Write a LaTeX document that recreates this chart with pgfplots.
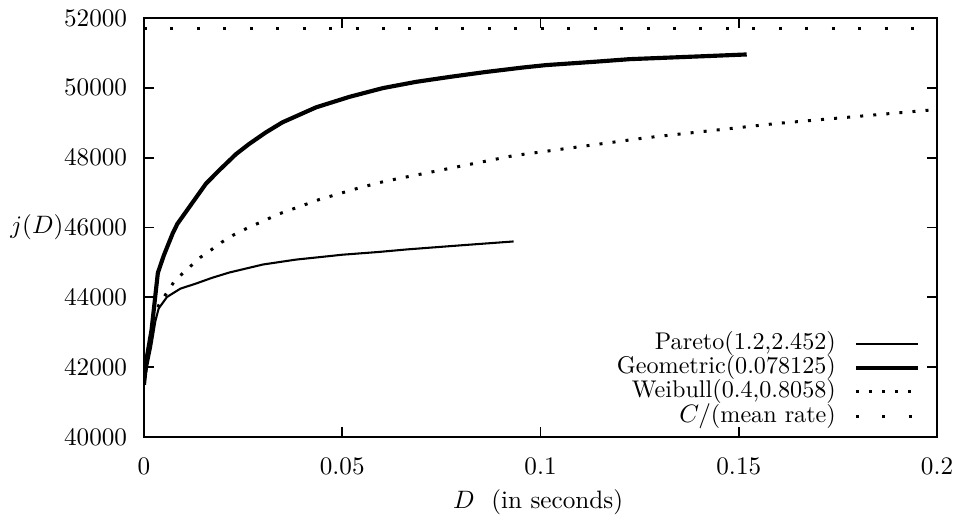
\documentclass[11pt,border=0pt]{standalone}
\usepackage{pgfplots}
\pgfplotsset{compat=1.18}
\begin{document}
\begin{tikzpicture}
\useasboundingbox (-62.6pt,-35.65pt) rectangle (352.6pt,190pt);
\begin{axis}[
  at={(0pt,0pt)}, anchor=south west,
  scale only axis, width=344.8pt, height=182.2pt,
  xmin=0, xmax=0.2, ymin=40000, ymax=52000,
  xtick={0,0.05,0.1,0.15,0.2}, xticklabels={0,0.05,0.1,0.15,0.2},
  ytick={40000,42000,44000,46000,48000,50000,52000},
  yticklabels={40000,42000,44000,46000,48000,50000,52000},
  scaled x ticks=false, scaled y ticks=false,
  tick align=inside, major tick length=4.5pt,
  axis line style={line width=0.8pt},
  every tick/.style={black, line width=0.8pt},
  xticklabel style={yshift=-5pt}, yticklabel style={xshift=-3.5pt},
  xlabel={$D$\ \ (in seconds)}, ylabel={$j(D)$},
  every axis x label/.style={at={(axis description cs:0.497,-0.1544)}, anchor=center},
  every axis y label/.style={at={(axis description cs:-0.169,0.5)}, anchor=west, inner sep=0pt},
  legend plot pos=right,
  legend cell align=right,
  legend style={draw=none, fill=none, inner sep=0pt, outer sep=0pt,
    at={(axis description cs:0.9785,0.0213)}, anchor=south east,
    row sep=0pt, column sep=7.8pt, font=\fontsize{10.5}{12}\selectfont,
    nodes={inner sep=0pt, text height=7.875pt, text depth=2.625pt}},
  legend image code/.code={\draw[#1] (0pt,0pt) -- (27pt,0pt);},
]
\addplot[black, line width=0.9pt] coordinates {
(0,41500) (0.0006,41910) (0.0018,42580) (0.0029,43340) (0.0037,43680)
(0.0058,44010) (0.0092,44250) (0.013,44390) (0.0172,44560) (0.0215,44710)
(0.03,44940) (0.0383,45080) (0.0467,45180) (0.05,45220) (0.0593,45300)
(0.0661,45370) (0.08,45490) (0.0932,45600)};
\addlegendentry{Pareto(1.2,2.452)}
\addplot[black, line width=1.8pt] coordinates {
(0,41500) (0.0006,42200) (0.0019,43060) (0.0035,44700) (0.005,45200)
(0.0072,45820) (0.0084,46100) (0.0114,46580) (0.0156,47250) (0.0189,47630)
(0.0232,48100) (0.0265,48390) (0.0307,48720) (0.0349,49010) (0.0434,49440)
(0.0518,49740) (0.0602,49990) (0.0686,50170) (0.077,50310) (0.086,50450)
(0.0955,50580) (0.1014,50650) (0.1136,50745) (0.1225,50820) (0.1435,50915)
(0.152,50955)};
\addlegendentry{Geometric(0.078125)}
\addplot[black, line width=1.3pt, dash pattern=on 1.3pt off 4.4pt] coordinates {
(0,41500) (0.0012,42500) (0.0025,43200) (0.0037,43770) (0.0056,44105)
(0.0077,44466) (0.0101,44723) (0.0143,45151) (0.0171,45371) (0.0195,45571)
(0.0225,45780) (0.0257,45963) (0.0341,46391) (0.0442,46800) (0.0539,47123)
(0.0606,47320) (0.0932,48057) (0.1267,48571) (0.1597,48980) (0.2,49380)};
\addlegendentry{Weibull(0.4,0.8058)}
\addplot[black, line width=1.3pt, dash pattern=on 1.3pt off 10.2pt] coordinates {
(0,51700) (0.2,51700)};
\addlegendentry{$C/$(mean rate)}
\end{axis}
\end{tikzpicture}
\end{document}
